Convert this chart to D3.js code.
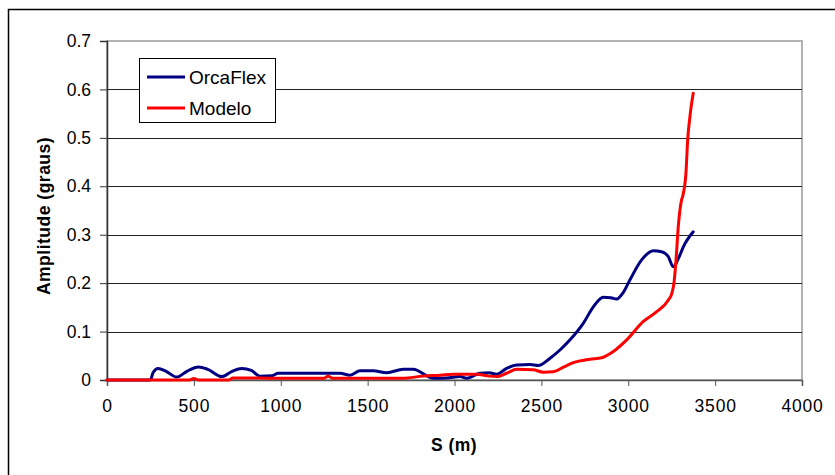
<!DOCTYPE html>
<html>
<head>
<meta charset="utf-8">
<script src="https://cdn.jsdelivr.net/npm/d3@7"></script>
<style>
  html, body { margin: 0; padding: 0; background: #fff; }
  svg { display: block; font-family: Arial, "Liberation Sans", sans-serif; }
</style>
</head>
<body>
<svg id="chart" width="835" height="475"></svg>
<script>
// ---- data ----
const xTicks = [0, 500, 1000, 1500, 2000, 2500, 3000, 3500, 4000];
const yTicks = [0, 0.1, 0.2, 0.3, 0.4, 0.5, 0.6, 0.7];
const seriesNames = ["OrcaFlex", "Modelo"];

const orcaS = [0, 250, 265, 294, 340, 401, 460, 526, 580, 660, 720, 775, 830, 880, 950, 985, 1341, 1399, 1456, 1531, 1610, 1705, 1762, 1878, 1955, 2032, 2070, 2147, 2200, 2243, 2300, 2358, 2435, 2482, 2550, 2610, 2665, 2741, 2799, 2856, 2900, 2933, 2970, 3010, 3077, 3144, 3192, 3230, 3259, 3290, 3317, 3374];
const orcaA = [0, 0, 0.015, 0.024, 0.018, 0.006, 0.018, 0.027, 0.022, 0.007, 0.018, 0.024, 0.020, 0.008, 0.009, 0.014, 0.014, 0.010, 0.019, 0.019, 0.015, 0.022, 0.022, 0.0035, 0.004, 0.007, 0.0035, 0.014, 0.015, 0.012, 0.024, 0.031, 0.032, 0.030, 0.045, 0.063, 0.083, 0.117, 0.151, 0.171, 0.170, 0.167, 0.180, 0.207, 0.248, 0.267, 0.265, 0.255, 0.234, 0.252, 0.275, 0.306];

const modS = [0, 470, 500, 530, 700, 725, 880, 985, 1250, 1272, 1300, 1700, 1819, 1917, 1992, 2128, 2200, 2243, 2300, 2358, 2453, 2511, 2569, 2630, 2684, 2780, 2847, 2914, 2991, 3087, 3164, 3231, 3250, 3263, 3275, 3288, 3307, 3313, 3332, 3342, 3355, 3374];
const modA = [0, 0, 0.003, 0, 0, 0.004, 0.004, 0.0035, 0.0035, 0.008, 0.0035, 0.0035, 0.008, 0.010, 0.012, 0.012, 0.008, 0.007, 0.014, 0.022, 0.021, 0.016, 0.017, 0.027, 0.036, 0.043, 0.046, 0.059, 0.083, 0.121, 0.141, 0.165, 0.178, 0.200, 0.248, 0.317, 0.372, 0.379, 0.427, 0.496, 0.544, 0.592];

const colors = ["#000080", "#FF0000"];

// ---- layout ----
const svg = d3.select("#chart");
const L = 107, R = 802, T = 41, B = 380;

const x = d3.scaleLinear().domain([0, 4000]).range([L, R]);
const y = d3.scaleLinear().domain([0, 0.7]).range([B, T]);

// outer frame
svg.append("rect").attr("x", 8.5).attr("y", 9.5).attr("width", 840).attr("height", 480)
  .attr("fill", "none").attr("stroke", "#000").attr("stroke-width", 1.5);

// plot area border (gray)
svg.append("rect").attr("x", L).attr("y", T).attr("width", R - L).attr("height", B - T)
  .attr("fill", "none").attr("stroke", "#9a9a9a").attr("stroke-width", 1.5);

// gridlines
svg.append("g").selectAll("line").data(yTicks.filter(d => d > 0 && d < 0.7)).join("line")
  .attr("x1", L).attr("x2", R)
  .attr("y1", d => Math.round(y(d)) + 0.5).attr("y2", d => Math.round(y(d)) + 0.5)
  .attr("stroke", "#222").attr("stroke-width", 1);

// axes
const yAxis = d3.axisLeft(y).tickValues(yTicks).tickFormat(d => d === 0 ? "0" : d3.format(".1f")(d))
  .tickSize(7).tickPadding(9);
const gy = svg.append("g").attr("transform", `translate(${L},0)`).call(yAxis);
gy.select(".domain").attr("stroke", "#333").attr("stroke-width", 1.5);
gy.selectAll(".tick line").attr("stroke", "#333");
gy.selectAll(".tick text").attr("font-size", 17.5).attr("fill", "#000")
  .attr("font-family", "Arial, 'Liberation Sans', sans-serif");

const xAxis = d3.axisBottom(x).tickValues(xTicks).tickFormat(d3.format("d"))
  .tickSize(6).tickPadding(14);
const gx = svg.append("g").attr("transform", `translate(0,${B})`).call(xAxis);
gx.select(".domain").attr("stroke", "#555").attr("stroke-width", 1.5);
gx.selectAll(".tick line").attr("stroke", "#555");
gx.selectAll(".tick text").attr("font-size", 17.5).attr("fill", "#000")
  .attr("font-family", "Arial, 'Liberation Sans', sans-serif").attr("letter-spacing", 0.8);

// lines
const line = d3.line().curve(d3.curveMonotoneX).x(d => x(d[0])).y(d => y(d[1]));
const orca = orcaS.map((s, i) => [s, orcaA[i]]);
const mod = modS.map((s, i) => [s, modA[i]]);

svg.append("path").datum(orca).attr("d", line).attr("fill", "none")
  .attr("stroke", colors[0]).attr("stroke-width", 3).attr("stroke-linejoin", "round").attr("stroke-linecap", "round");
svg.append("path").datum(mod).attr("d", line).attr("fill", "none")
  .attr("stroke", colors[1]).attr("stroke-width", 3).attr("stroke-linejoin", "round").attr("stroke-linecap", "round");

// axis titles
svg.append("text").attr("x", 454).attr("y", 451).attr("text-anchor", "middle")
  .attr("font-size", 17.5).attr("font-weight", "bold").attr("letter-spacing", 0.5).text("S (m)");
svg.append("text").attr("transform", "translate(50,216) rotate(-90)").attr("text-anchor", "middle")
  .attr("font-size", 17.5).attr("font-weight", "bold").attr("letter-spacing", 0.5).text("Amplitude (graus)");

// legend
const lg = svg.append("g");
lg.append("rect").attr("x", 139.5).attr("y", 58.5).attr("width", 136).attr("height", 64)
  .attr("fill", "#fff").attr("stroke", "#000").attr("stroke-width", 1);
seriesNames.forEach((n, i) => {
  const yy = 77 + i * 31;
  lg.append("line").attr("x1", 147).attr("x2", 185).attr("y1", yy).attr("y2", yy)
    .attr("stroke", colors[i]).attr("stroke-width", 3);
  lg.append("text").attr("x", 189).attr("y", yy + 7).attr("font-size", 19).attr("fill", "#000").text(n);
});
</script>
</body>
</html>
